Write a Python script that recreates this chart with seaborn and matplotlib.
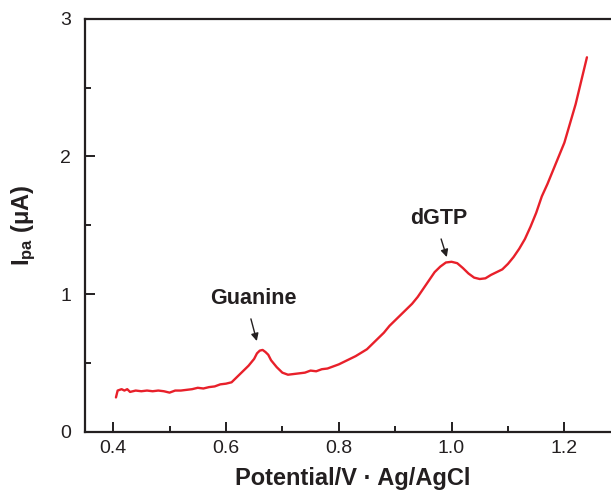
import matplotlib
matplotlib.use('Agg')
import matplotlib.pyplot as plt
import seaborn as sns
import pandas as pd

# potential (V vs Ag/AgCl) and anodic peak current (uA)
potential = [0.405, 0.408, 0.415, 0.42, 0.425, 0.43, 0.44, 0.45, 0.46, 0.47,
             0.48, 0.49, 0.50, 0.51, 0.52, 0.53, 0.54, 0.55, 0.56, 0.57,
             0.58, 0.59, 0.60, 0.61, 0.62, 0.63, 0.64, 0.65, 0.655, 0.66,
             0.665, 0.67, 0.675, 0.68, 0.69, 0.70, 0.71, 0.72, 0.73, 0.74,
             0.75, 0.76, 0.77, 0.78, 0.79, 0.80, 0.81, 0.82, 0.83, 0.84,
             0.85, 0.86, 0.87, 0.88, 0.89, 0.90, 0.91, 0.92, 0.93, 0.94,
             0.95, 0.96, 0.97, 0.98, 0.99, 1.00, 1.01, 1.02, 1.03, 1.04,
             1.05, 1.06, 1.07, 1.08, 1.09, 1.10, 1.11, 1.12, 1.13, 1.14,
             1.15, 1.16, 1.17, 1.18, 1.19, 1.20, 1.21, 1.22, 1.23, 1.24]
current = [0.25, 0.30, 0.31, 0.30, 0.31, 0.29, 0.30, 0.295, 0.30, 0.295,
           0.30, 0.295, 0.285, 0.30, 0.30, 0.305, 0.31, 0.32, 0.315, 0.325,
           0.33, 0.345, 0.35, 0.36, 0.40, 0.44, 0.48, 0.53, 0.57, 0.59,
           0.595, 0.58, 0.56, 0.52, 0.47, 0.43, 0.415, 0.42, 0.425, 0.43,
           0.445, 0.44, 0.455, 0.46, 0.475, 0.49, 0.51, 0.53, 0.55, 0.575,
           0.60, 0.64, 0.68, 0.72, 0.77, 0.81, 0.85, 0.89, 0.93, 0.98,
           1.04, 1.10, 1.16, 1.20, 1.23, 1.235, 1.225, 1.19, 1.15, 1.12,
           1.11, 1.115, 1.14, 1.16, 1.18, 1.22, 1.27, 1.33, 1.40, 1.49,
           1.59, 1.71, 1.80, 1.90, 2.00, 2.10, 2.24, 2.38, 2.55, 2.72]

peak_labels = ['Guanine', 'dGTP']
peak_text_xy = [(0.648, 0.97), (0.977, 1.55)]
peak_arrow_tail = [(0.643, 0.84), (0.980, 1.42)]
peak_arrow_head = [(0.656, 0.64), (0.993, 1.25)]

sns.set_style('ticks')
plt.rcParams['font.family'] = ['Liberation Sans', 'DejaVu Sans']
plt.rcParams['mathtext.fontset'] = 'custom'
plt.rcParams['mathtext.rm'] = 'Liberation Sans'
plt.rcParams['mathtext.bf'] = 'Liberation Sans:bold'
plt.rcParams['mathtext.default'] = 'bf'

df = pd.DataFrame({'E': potential, 'I': current})

fig = plt.figure(figsize=(6.11, 4.93), dpi=100)
ax = fig.add_axes([0.139, 0.124, 0.877, 0.838])
sns.lineplot(data=df, x='E', y='I', ax=ax, color='#e8202a', linewidth=1.7)

ax.set_xlim(0.35, 1.3)
ax.set_ylim(0, 3)
ax.set_xticks([0.4, 0.6, 0.8, 1.0, 1.2])
ax.set_xticks([0.5, 0.7, 0.9, 1.1], minor=True)
ax.set_yticks([0, 1, 2, 3])
ax.set_yticks([0.5, 1.5, 2.5], minor=True)
ax.set_xticklabels(['0.4', '0.6', '0.8', '1.0', '1.2'])
ax.tick_params(which='both', direction='in', colors='#231f20', labelsize=14, width=1.4)
ax.tick_params(which='major', length=7)
ax.tick_params(which='minor', length=4.5)
ax.tick_params(axis='x', pad=6)
ax.tick_params(axis='y', pad=10)
for s in ax.spines.values():
    s.set_linewidth(1.6)
    s.set_color('#231f20')

ax.set_xlabel('Potential/V · Ag/AgCl', fontsize=17, fontweight='bold', color='#231f20', labelpad=7)
ax.set_ylabel(r'I$_{pa}$ ($\mu$A)', fontsize=17, fontweight='bold', color='#231f20', labelpad=16)

for lab, txy, tail, head in zip(peak_labels, peak_text_xy, peak_arrow_tail, peak_arrow_head):
    ax.text(txy[0], txy[1], lab, ha='center', va='center', fontsize=15.5,
            fontweight='bold', color='#231f20')
    ax.annotate('', xy=head, xytext=tail,
                arrowprops=dict(arrowstyle='-|>', color='#231f20', lw=1.0,
                                mutation_scale=11))

fig.savefig('out.png', dpi=100)
plt.close(fig)
